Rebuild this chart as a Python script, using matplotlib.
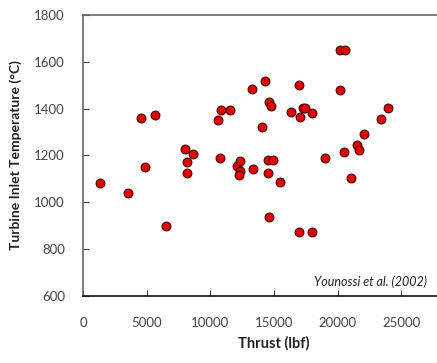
import matplotlib
matplotlib.use("Agg")
import matplotlib.pyplot as plt

plt.rcParams['font.family'] = ['Lato', 'DejaVu Sans']

thrust = [1330, 3530, 4530, 4870, 5650, 6490, 8000, 8660, 8160, 8140,
          10570, 10830, 11540, 10780, 12060, 12350, 12320, 12240, 13270, 13340,
          14030, 14290, 14620, 14730, 14550, 14940, 14550, 15460, 14570, 16300,
          16980, 17240, 17430, 17080, 17990, 16980, 17970, 19020, 20170, 20220,
          20560, 20500, 21010, 21530, 21640, 22050, 23390, 23990]
tit = [1080, 1038, 1361, 1149, 1373, 900, 1227, 1204, 1170, 1126,
       1351, 1394, 1394, 1190, 1155, 1176, 1135, 1116, 1484, 1143,
       1320, 1517, 1430, 1411, 1180, 1180, 1126, 1088, 937, 1387,
       1502, 1404, 1401, 1365, 1382, 873, 873, 1190, 1480, 1650,
       1650, 1213, 1103, 1243, 1222, 1291, 1355, 1401]

fig = plt.figure(figsize=(4.37, 3.63), dpi=100)
ax = fig.add_axes([0.19, 0.185, 0.874, 0.774])
ax.scatter(thrust, tit, s=40, c="#e00000", edgecolors="#4a0000", linewidths=0.8, zorder=3)

ax.set_xlim(0, 30000)
ax.set_ylim(600, 1800)
ax.set_xticks(range(0, 30000, 5000))
ax.set_yticks(range(600, 1801, 200))
ax.tick_params(direction="in", length=4, labelsize=9.5, colors="#444444")
ax.tick_params(axis="x", pad=15)
ax.tick_params(axis="y", pad=13)
for s in ["left", "top"]:
    ax.spines[s].set_color("#666666")
ax.spines["bottom"].set_color("#111111")
ax.spines["right"].set_visible(False)
for s in ax.spines.values():
    s.set_linewidth(1.2)

ax.set_xlabel("Thrust (lbf)", fontweight="bold", fontsize=10.5, labelpad=5, color="#222222")
ax.set_ylabel("Turbine Inlet Temperature (°C)", fontweight="bold", fontsize=10, labelpad=9, color="#222222")
ax.text(27000, 660, "Younossi et al. (2002)", style="italic", fontsize=9,
        ha="right", va="center", color="#222222")

fig.savefig("out.png", dpi=100)
